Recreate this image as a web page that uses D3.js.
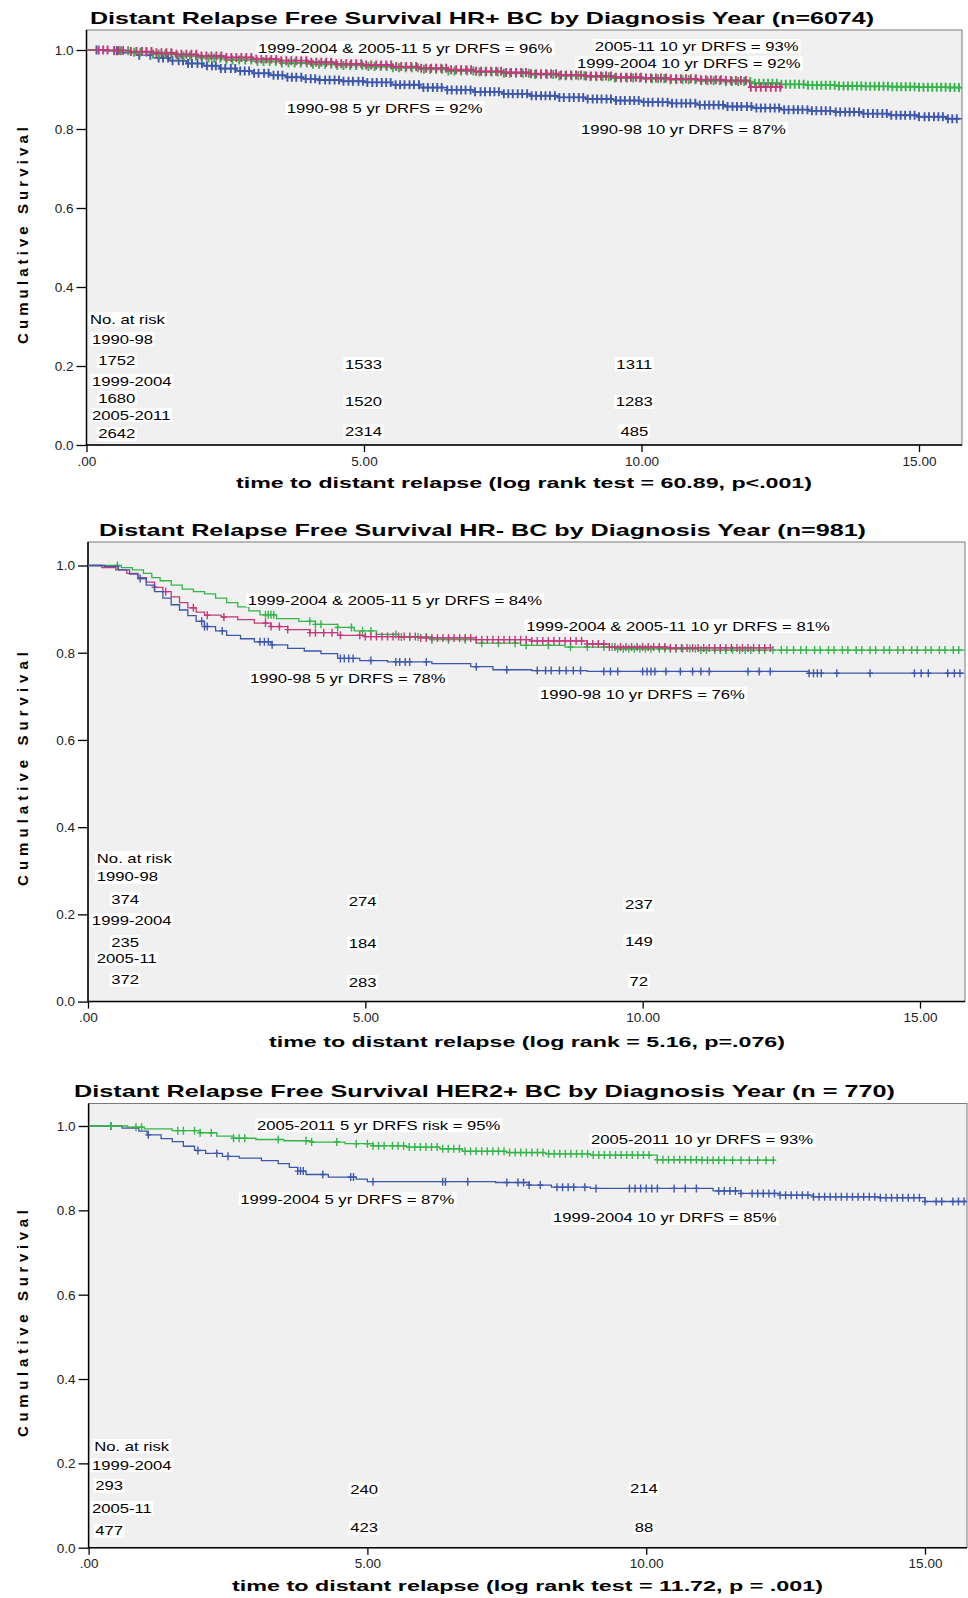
<!DOCTYPE html>
<html>
<head>
<meta charset="utf-8">
<title>Distant Relapse Free Survival by Diagnosis Year</title>
<script src="https://d3js.org/d3.v7.min.js"></script>
<style>
  body { margin: 0; background: #fff; }
  svg text { font-family: "Liberation Sans", Arial, sans-serif; fill: #000; }
  .frame { fill: #f0f0f0; stroke: #7a7a7a; stroke-width: 1px; }
  .axis path { display: none; }
  .axis line { stroke: #000; stroke-width: 1.3px; }
  .axis text { font-size: 13.5px; fill: #222; }
  .km { fill: none; stroke-width: 1.3px; }
  .cens { fill: none; }
</style>
</head>
<body>
<script>
var blue = "#3d57aa", green = "#34b54a", magenta = "#c13a7d";

// ---------- panel 1 : HR+ ----------
var hrpTitle = "Distant Relapse Free Survival HR+ BC by Diagnosis Year (n=6074)";
var hrpXLabel = "time to distant relapse (log rank test = 60.89, p<.001)";

// 1990-98
var hrpBlue = [[0,1],[0.3,0.998],[0.6,0.993],[0.9,0.987],[1.2,0.980],[1.5,0.973],[1.8,0.966],[2.1,0.960],
  [2.4,0.953],[2.7,0.947],[3.0,0.941],[3.3,0.936],[3.6,0.931],[3.9,0.927],[4.2,0.924],[4.6,0.921],[5.0,0.918],
  [5.5,0.912],[6.0,0.905],[6.5,0.899],[7.0,0.894],[7.5,0.889],[8.0,0.884],[8.5,0.880],[9.0,0.876],[9.5,0.872],
  [10.0,0.868],[10.5,0.865],[11.0,0.861],[11.5,0.857],[12.0,0.853],[12.5,0.849],[13.0,0.846],[13.5,0.843],
  [14.0,0.839],[14.5,0.835],[15.0,0.831],[15.5,0.826],[15.8,0.826]];
var hrpBlueCens = [0.18,0.55,0.95,1.15,1.3,1.38,1.47,1.55,1.66,1.74,1.83,1.9,2.0,2.08,2.17,2.26,2.33,2.42,2.5,2.6,
  2.68,2.77,2.85,2.93,3.02,3.1,3.2,3.28,3.37,3.45,3.53,3.62,3.7,3.78,3.87,3.95,4.04,4.12,4.2,4.3,4.38,4.47,4.55,
  4.63,4.72,4.8,4.9,4.98,5.06,5.15,5.23,5.32,5.4,5.48,5.57,5.65,5.73,5.82,5.9,5.99,6.07,6.15,6.24,6.32,6.4,6.5,
  6.58,6.67,6.75,6.83,6.92,7.0,7.1,7.18,7.27,7.35,7.43,7.52,7.6,7.68,7.77,7.85,7.94,8.02,8.1,8.19,8.27,8.35,8.44,
  8.52,8.6,8.7,8.78,8.87,8.95,9.03,9.12,9.2,9.28,9.37,9.45,9.54,9.62,9.7,9.79,9.87,9.95,10.04,10.12,10.2,10.3,
  10.38,10.47,10.55,10.63,10.72,10.8,10.88,10.97,11.05,11.14,11.22,11.3,11.39,11.47,11.55,11.64,11.72,11.8,11.9,
  11.98,12.07,12.15,12.23,12.32,12.4,12.48,12.57,12.65,12.74,12.82,12.9,12.99,13.07,13.15,13.24,13.32,13.4,13.5,
  13.58,13.67,13.75,13.83,13.92,14.0,14.08,14.17,14.25,14.34,14.42,14.5,14.59,14.67,14.75,14.84,14.92,15.0,15.1,
  15.18,15.27,15.35,15.43,15.52,15.6,15.68];
// 1999-2004
var hrpGreen = [[0,1],[0.4,0.998],[0.8,0.994],[1.2,0.990],[1.6,0.985],[2.0,0.980],[2.5,0.975],[3.0,0.971],
  [3.5,0.967],[4.0,0.964],[4.5,0.961],[5.0,0.958],[5.5,0.955],[6.0,0.951],[6.5,0.947],[7.0,0.944],[7.5,0.941],
  [8.0,0.938],[8.5,0.935],[9.0,0.932],[9.5,0.929],[10.0,0.927],[10.5,0.925],[11.0,0.922],[11.5,0.920],
  [12.0,0.916],[12.5,0.913],[13.0,0.911],[13.5,0.909],[14.0,0.908],[14.5,0.907],[15.0,0.906],[15.5,0.905],[15.8,0.905]];
var hrpGreenCens = [0.5,0.62,0.75,0.86,0.97,1.08,1.2,1.3,1.42,1.53,1.64,1.75,1.86,1.97,2.08,2.2,2.3,2.41,2.52,2.63,
  2.75,2.86,2.97,3.08,3.19,3.3,3.41,3.52,3.64,3.75,3.86,3.97,4.08,4.19,4.3,4.41,4.52,4.63,4.75,4.86,4.97,5.08,5.19,
  5.3,5.41,5.52,5.63,5.75,5.86,5.97,6.08,6.19,6.3,6.41,6.52,6.63,6.75,6.86,6.97,7.08,7.19,7.3,7.41,7.52,7.63,7.74,
  7.86,7.97,8.08,8.19,8.3,8.41,8.52,8.63,8.74,8.86,8.97,9.08,9.19,9.3,9.41,9.52,9.63,9.74,9.85,9.97,10.08,10.19,
  10.3,10.41,10.52,10.63,10.74,10.85,10.97,11.08,11.19,11.3,11.41,11.52,11.63,11.74,11.85,11.96,12.04,12.12,12.2,
  12.28,12.36,12.44,12.52,12.6,12.68,12.76,12.84,12.92,13.0,13.08,13.16,13.24,13.32,13.4,13.48,13.56,13.64,13.72,
  13.8,13.88,13.96,14.04,14.12,14.2,14.28,14.36,14.44,14.52,14.6,14.68,14.76,14.84,14.92,15.0,15.08,15.16,15.24,
  15.32,15.4,15.48,15.56,15.64,15.72];
// 2005-11
var hrpMagenta = [[0,1],[0.4,0.999],[0.8,0.996],[1.2,0.993],[1.6,0.989],[2.0,0.985],[2.5,0.981],[3.0,0.977],
  [3.5,0.973],[4.0,0.969],[4.5,0.965],[5.0,0.962],[5.5,0.958],[6.0,0.954],[6.5,0.950],[7.0,0.946],[7.5,0.943],
  [8.0,0.940],[8.5,0.937],[9.0,0.934],[9.5,0.931],[10.0,0.929],[10.5,0.927],[11.0,0.925],[11.5,0.923],
  [11.95,0.906],[12.5,0.906]];
var hrpMagentaCens = [0.22,0.3,0.38,0.5,0.58,0.66,0.8,0.9,1.0,1.08,1.17,1.26,1.35,1.44,1.53,1.62,1.71,1.8,1.89,1.98,
  2.07,2.16,2.25,2.34,2.43,2.52,2.61,2.7,2.79,2.88,2.97,3.06,3.15,3.24,3.33,3.42,3.51,3.6,3.69,3.78,3.87,3.96,4.05,
  4.14,4.23,4.32,4.41,4.5,4.59,4.68,4.77,4.86,4.95,5.04,5.13,5.22,5.31,5.4,5.49,5.58,5.67,5.76,5.85,5.94,6.03,6.12,
  6.21,6.3,6.39,6.48,6.57,6.66,6.75,6.84,6.93,7.02,7.11,7.2,7.29,7.38,7.47,7.56,7.65,7.74,7.83,7.92,8.01,8.1,8.19,
  8.28,8.37,8.46,8.55,8.64,8.73,8.82,8.91,9.0,9.09,9.18,9.27,9.36,9.45,9.54,9.63,9.72,9.81,9.9,9.99,10.08,10.17,
  10.26,10.35,10.44,10.53,10.62,10.71,10.8,10.89,10.98,11.07,11.16,11.25,11.34,11.43,11.52,11.61,11.7,11.79,11.88,
  11.97,12.06,12.15,12.24,12.33,12.42,12.5];
var hrpNotes = ["1999-2004 & 2005-11 5 yr DRFS = 96%", "2005-11 10 yr DRFS = 93%", "1999-2004 10 yr DRFS = 92%",
  "1990-98 5 yr DRFS = 92%", "1990-98 10 yr DRFS = 87%"];
var hrpRiskRows = ["1990-98", "1999-2004", "2005-2011"];
var hrpRiskCounts = [[1752, 1533, 1311], [1680, 1520, 1283], [2642, 2314, 485]];

// ---------- panel 2 : HR- ----------
var hrnTitle = "Distant Relapse Free Survival HR- BC by Diagnosis Year (n=981)";
var hrnXLabel = "time to distant relapse (log rank = 5.16, p=.076)";
var hrnBlue = [[0,1],[0.3,0.998],[0.55,0.99],[0.75,0.98],[0.9,0.97],[1.05,0.955],[1.2,0.94],[1.35,0.925],
  [1.5,0.91],[1.65,0.898],[1.8,0.885],[1.95,0.872],[2.1,0.86],[2.3,0.85],[2.5,0.84],[2.75,0.832],[3.0,0.825],
  [3.3,0.818],[3.6,0.81],[3.9,0.804],[4.2,0.798],[4.5,0.787],[4.9,0.782],[5.4,0.779],[6.2,0.775],[6.9,0.768],
  [7.3,0.761],[8.0,0.759],[9.0,0.757],[13.0,0.753],[15.8,0.753]];
var hrnBlueCens = [0.94,2.05,2.1,2.15,2.42,3.1,3.18,3.25,3.32,4.55,4.62,4.7,4.78,5.1,5.55,5.62,5.72,5.8,6.1,7.0,
  7.55,8.1,8.25,8.35,8.5,8.62,8.75,8.88,9.3,9.42,9.55,10.0,10.08,10.15,10.22,10.42,10.68,10.9,11.05,11.2,11.9,
  12.1,12.3,13.0,13.08,13.15,13.22,13.5,14.1,14.9,15.02,15.15,15.5,15.62,15.72];
var hrnGreen = [[0,1],[0.6,0.995],[0.8,0.99],[1.0,0.982],[1.15,0.972],[1.3,0.965],[1.5,0.955],[1.7,0.946],
  [1.9,0.94],[2.1,0.935],[2.3,0.925],[2.5,0.915],[2.7,0.905],[2.9,0.896],[3.1,0.887],[3.4,0.878],[3.8,0.872],
  [4.1,0.865],[4.5,0.858],[4.8,0.85],[5.2,0.842],[5.6,0.836],[6.2,0.83],[7.0,0.822],[7.8,0.817],[8.6,0.813],
  [9.5,0.809],[11.0,0.806],[15.8,0.806]];
var hrnGreenCens = [0.53,3.2,3.25,3.3,3.35,4.0,4.1,4.2,4.5,4.75,4.95,5.1,5.55,5.65,5.8,5.95,6.1,6.2,6.5,6.8,7.1,
  7.4,7.7,7.9,8.3,8.7,9.0,9.3,9.45,9.55,9.65,9.75,9.85,9.95,10.05,10.15,10.3,10.4,10.5,10.6,10.72,10.85,10.95,
  11.05,11.15,11.3,11.4,11.5,11.62,11.75,11.85,11.95,12.1,12.2,12.35,12.5,12.6,12.72,12.85,12.95,13.1,13.2,13.35,
  13.45,13.6,13.7,13.85,13.95,14.1,14.2,14.35,14.45,14.6,14.7,14.85,14.95,15.1,15.2,15.35,15.45,15.6,15.7];
var hrnMagenta = [[0,1],[0.25,0.995],[0.5,0.99],[0.7,0.982],[0.9,0.972],[1.05,0.962],[1.2,0.95],[1.35,0.94],
  [1.5,0.928],[1.65,0.915],[1.8,0.903],[1.95,0.893],[2.1,0.886],[2.4,0.882],[2.7,0.876],[3.0,0.868],[3.3,0.86],
  [3.6,0.853],[4.0,0.846],[4.5,0.84],[5.0,0.837],[6.0,0.834],[7.0,0.83],[8.0,0.827],[9.0,0.82],[9.4,0.813],
  [10.5,0.811],[12.3,0.811]];
var hrnMagentaCens = [1.2,1.4,1.9,2.15,2.45,3.2,3.3,3.45,3.6,4.0,4.1,4.25,4.4,4.55,4.9,5.0,5.1,5.2,5.3,5.4,5.5,
  5.6,5.7,5.8,5.9,6.0,6.1,6.2,6.3,6.4,6.5,6.6,6.7,6.8,6.9,7.0,7.1,7.2,7.3,7.4,7.5,7.6,7.7,7.8,7.9,8.0,8.1,8.2,
  8.3,8.4,8.5,8.6,8.7,8.8,8.9,9.0,9.1,9.2,9.3,9.4,9.5,9.6,9.7,9.8,9.9,10.0,10.1,10.2,10.3,10.4,10.5,10.6,10.7,
  10.8,10.9,11.0,11.1,11.2,11.3,11.4,11.5,11.6,11.7,11.8,11.9,12.0,12.1,12.2,12.3];
var hrnNotes = ["1999-2004 & 2005-11 5 yr DRFS = 84%", "1999-2004 & 2005-11 10 yr DRFS = 81%",
  "1990-98 5 yr DRFS = 78%", "1990-98 10 yr DRFS = 76%"];
var hrnRiskRows = ["1990-98", "1999-2004", "2005-11"];
var hrnRiskCounts = [[374, 274, 237], [235, 184, 149], [372, 283, 72]];

// ---------- panel 3 : HER2+ ----------
var herTitle = "Distant Relapse Free Survival HER2+ BC by Diagnosis Year (n = 770)";
var herXLabel = "time to distant relapse (log rank test = 11.72, p = .001)";
var herBlue = [[0,1],[0.6,0.995],[0.9,0.988],[1.05,0.979],[1.3,0.97],[1.5,0.963],[1.7,0.952],[1.9,0.942],
  [2.1,0.935],[2.4,0.928],[2.7,0.924],[3.1,0.918],[3.4,0.911],[3.6,0.902],[3.75,0.893],[3.9,0.885],[4.3,0.879],
  [4.8,0.874],[5.0,0.868],[7.3,0.866],[7.9,0.86],[8.3,0.855],[9.0,0.852],[11.2,0.846],[11.7,0.84],[12.4,0.836],
  [13.0,0.832],[14.2,0.83],[15.0,0.821],[15.8,0.821]];
var herBlueCens = [0.4,1.07,1.96,2.3,2.5,3.75,3.8,3.85,4.2,4.7,4.75,5.1,6.35,6.4,6.8,7.5,7.7,7.8,7.9,8.1,8.4,8.5,
  8.6,8.7,8.9,9.1,9.7,9.8,9.9,10.0,10.1,10.2,10.5,10.7,10.9,11.3,11.4,11.5,11.6,11.7,11.9,12.0,12.1,12.2,12.3,
  12.4,12.5,12.6,12.7,12.8,12.9,13.0,13.1,13.2,13.3,13.4,13.5,13.6,13.7,13.8,13.9,14.0,14.1,14.2,14.3,14.4,14.5,
  14.6,14.7,14.8,14.9,15.0,15.2,15.3,15.5,15.6,15.7];
var herGreen = [[0,1],[0.7,0.997],[1.0,0.993],[1.5,0.989],[2.0,0.984],[2.3,0.976],[2.6,0.971],[3.0,0.968],
  [3.5,0.965],[4.0,0.962],[4.6,0.958],[5.1,0.953],[5.7,0.95],[6.3,0.946],[6.7,0.94],[7.5,0.937],[8.2,0.934],
  [9.0,0.931],[10.2,0.92],[11.0,0.919],[12.3,0.919]];
var herGreenCens = [0.4,0.85,0.95,1.6,1.7,1.9,2.0,2.2,2.6,2.7,2.8,3.4,3.9,4.0,4.45,4.8,5.0,5.1,5.2,5.3,5.45,5.55,
  5.65,5.75,5.85,5.95,6.05,6.15,6.25,6.35,6.45,6.55,6.65,6.75,6.85,6.95,7.05,7.15,7.25,7.35,7.45,7.55,7.65,7.75,
  7.85,7.95,8.05,8.15,8.25,8.35,8.45,8.55,8.65,8.75,8.85,8.95,9.05,9.15,9.25,9.35,9.45,9.55,9.65,9.75,9.85,9.95,
  10.05,10.2,10.3,10.4,10.5,10.6,10.7,10.8,10.9,11.0,11.1,11.2,11.3,11.4,11.55,11.7,11.85,12.0,12.15,12.28];
var herNotes = ["2005-2011 5 yr DRFS risk = 95%", "2005-2011 10 yr DRFS = 93%",
  "1999-2004 5 yr DRFS = 87%", "1999-2004 10 yr DRFS = 85%"];
var herRiskRows = ["1999-2004", "2005-11"];
var herRiskCounts = [[293, 240, 214], [477, 423, 88]];

var yTicks = [0, 0.2, 0.4, 0.6, 0.8, 1.0];
var xTicks = [0, 5, 10, 15];

// layout: pixel frame + where each note / risk cell sits, in (years, survival)
var panels = [
  { title: hrpTitle, xLabel: hrpXLabel, notes: hrpNotes, riskRows: hrpRiskRows, riskCounts: hrpRiskCounts,
    series: [[hrpBlue, hrpBlueCens, blue], [hrpGreen, hrpGreenCens, green], [hrpMagenta, hrpMagentaCens, magenta]],
    lay: { x0: 86.5, x15: 919, right: 962, top: 30, y1: 50, y0: 445, markH: 4.5, markW: 1.9,
      titleX: 482, titleY: 18, titleW: 784, xlabX: 524, xlabY: 483, xlabW: 576, ylabY: 235.5, ylabW: 217,
      notePos: [[3.09, 1.005], [9.16, 1.010], [8.84, 0.967], [3.61, 0.853], [8.91, 0.80]],
      headPos: [0.063, 0.319], rowPos: [[0.1, 0.268], [0.1, 0.162], [0.1, 0.076]],
      cellX: [0.21, 4.99, 9.87], cellY: [[0.213, 0.205, 0.205], [0.119, 0.109, 0.109], [0.028, 0.035, 0.035]],
      firstLeft: true } },
  { title: hrnTitle, xLabel: hrnXLabel, notes: hrnNotes, riskRows: hrnRiskRows, riskCounts: hrnRiskCounts,
    series: [[hrnGreen, hrnGreenCens, green], [hrnMagenta, hrnMagentaCens, magenta], [hrnBlue, hrnBlueCens, blue]],
    lay: { x0: 88, x15: 920, right: 965, top: 542, y1: 565.5, y0: 1001.6, markH: 4, markW: 1.4,
      titleX: 482.5, titleY: 530, titleW: 767, xlabX: 527, xlabY: 1042, xlabW: 516, ylabY: 769, ylabW: 234,
      notePos: [[2.88, 0.921], [7.90, 0.861], [2.92, 0.742], [8.15, 0.705]],
      headPos: [0.16, 0.329], rowPos: [[0.16, 0.286], [0.07, 0.187], [0.16, 0.098]],
      cellX: [0.67, 4.95, 9.93], cellY: [[0.235, 0.229, 0.222], [0.136, 0.133, 0.138], [0.050, 0.045, 0.047]],
      firstLeft: false } },
  { title: herTitle, xLabel: herXLabel, notes: herNotes, riskRows: herRiskRows, riskCounts: herRiskCounts,
    series: [[herBlue, herBlueCens, blue], [herGreen, herGreenCens, green]],
    lay: { x0: 88.6, x15: 925, right: 967, top: 1103.5, y1: 1126, y0: 1547.7, markH: 4, markW: 1.4,
      titleX: 484.5, titleY: 1091, titleW: 821, xlabX: 527.5, xlabY: 1585.5, xlabW: 591, ylabY: 1323.5, ylabW: 227,
      notePos: [[3.02, 1.002], [9.01, 0.967], [2.72, 0.827], [8.33, 0.782]],
      headPos: [0.1, 0.241], rowPos: [[0.06, 0.196], [0.06, 0.094]],
      cellX: [0.37, 4.94, 9.96], cellY: [[0.147, 0.138, 0.140], [0.040, 0.047, 0.049]],
      firstLeft: false } }
];

var svg = d3.select("body").append("svg")
    .attr("width", 968)
    .attr("height", 1598);

// text with optional horizontal stretch and white box behind it
function addText(g, str, x, y, opt) {
  var t = g.append("text")
      .attr("x", x).attr("y", y).attr("dy", "0.35em")
      .attr("text-anchor", opt.anchor || "start")
      .style("font-size", (opt.size || 13) + "px")
      .style("font-weight", opt.bold ? "bold" : "normal")
      .text(str);
  if (opt.width) {
    t.attr("textLength", opt.width).attr("lengthAdjust", opt.adjust || "spacingAndGlyphs");
  } else if (opt.stretch) {
    t.attr("textLength", t.node().getComputedTextLength() * opt.stretch).attr("lengthAdjust", "spacingAndGlyphs");
  }
  if (opt.rotate) t.attr("transform", "rotate(-90," + x + "," + y + ")");
  if (opt.box) {
    var b = t.node().getBBox();
    g.insert("rect", function() { return t.node(); })
      .attr("x", b.x - 1.5).attr("y", b.y + 0.5)
      .attr("width", b.width + 3).attr("height", b.height - 1)
      .attr("fill", "#fff");
  }
  return t;
}

panels.forEach(function(p, pi) {
  var L = p.lay;
  var x = d3.scaleLinear().domain([0, 15]).range([L.x0, L.x15]);
  var y = d3.scaleLinear().domain([0, 1]).range([L.y0, L.y1]);
  var g = svg.append("g");

  g.append("rect").attr("class", "frame")
    .attr("x", L.x0).attr("y", L.top)
    .attr("width", L.right - L.x0).attr("height", L.y0 - L.top);

  g.append("clipPath").attr("id", "clip" + pi)
    .append("rect").attr("x", L.x0).attr("y", L.top)
    .attr("width", L.right - L.x0).attr("height", L.y0 - L.top);

  // axes
  g.append("g").attr("class", "axis")
    .attr("transform", "translate(" + L.x0 + ",0)")
    .call(d3.axisLeft(y).tickValues(yTicks).tickFormat(d3.format(".1f")).tickSize(10).tickPadding(3));
  g.append("g").attr("class", "axis")
    .attr("transform", "translate(0," + L.y0 + ")")
    .call(d3.axisBottom(x).tickValues(xTicks)
      .tickFormat(function(d) { return d === 0 ? ".00" : d3.format(".2f")(d); })
      .tickSize(7).tickPadding(4));
  g.append("line").attr("x1", L.x0).attr("x2", L.x0).attr("y1", L.top).attr("y2", L.y0)
    .attr("stroke", "#000").attr("stroke-width", 1.5);
  g.append("line").attr("x1", L.x0).attr("x2", L.right).attr("y1", L.y0).attr("y2", L.y0)
    .attr("stroke", "#000").attr("stroke-width", 1.5);

  // curves + censor marks
  var line = d3.line()
      .x(function(d) { return x(d[0]); })
      .y(function(d) { return y(d[1]); })
      .curve(d3.curveStepAfter);
  var bis = d3.bisector(function(d) { return d[0]; }).right;
  var plot = g.append("g").attr("clip-path", "url(#clip" + pi + ")");
  p.series.forEach(function(s) {
    var data = s[0], cens = s[1], col = s[2];
    plot.append("path").datum(data).attr("class", "km").attr("stroke", col).attr("d", line);
    plot.append("path").attr("class", "cens").attr("stroke", col).attr("stroke-width", L.markW)
      .attr("d", cens.map(function(t) {
        var v = data[Math.max(0, bis(data, t) - 1)][1];
        var px = x(t), py = y(v);
        return "M" + (px - 3) + "," + py + "h6M" + px + "," + (py - L.markH) + "v" + (2 * L.markH);
      }).join(""));
  });

  // annotations
  p.notes.forEach(function(n, i) {
    addText(g, n, x(L.notePos[i][0]), y(L.notePos[i][1]), { stretch: 1.28, box: true });
  });
  addText(g, "No. at risk", x(L.headPos[0]), y(L.headPos[1]), { stretch: 1.28, box: true });
  p.riskRows.forEach(function(r, i) {
    addText(g, r, x(L.rowPos[i][0]), y(L.rowPos[i][1]), { stretch: 1.28, box: true });
    p.riskCounts[i].forEach(function(c, j) {
      var left = j === 0 && L.firstLeft;
      addText(g, String(c), x(L.cellX[j]), y(L.cellY[i][j]),
        { stretch: 1.28, box: true, anchor: left ? "start" : "middle" });
    });
  });

  // titles
  addText(g, p.title, L.titleX, L.titleY, { bold: true, size: 16.5, width: L.titleW, anchor: "middle" });
  addText(g, p.xLabel, L.xlabX, L.xlabY, { bold: true, size: 15, width: L.xlabW, anchor: "middle" });
  addText(g, "Cumulative Survival", 22.4, L.ylabY,
    { bold: true, size: 15, width: L.ylabW, adjust: "spacing", anchor: "middle", rotate: true });
});
</script>
</body>
</html>
